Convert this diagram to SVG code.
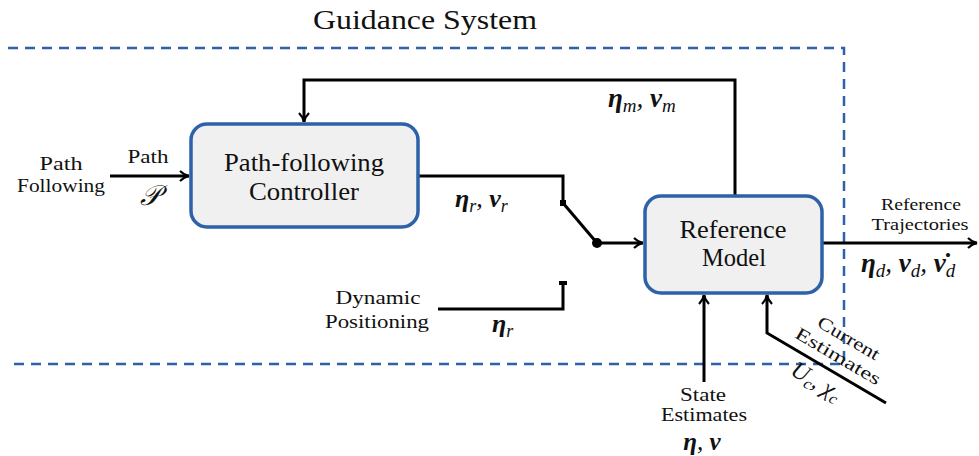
<svg xmlns="http://www.w3.org/2000/svg" width="979" height="456" viewBox="0 0 979 456" font-family="Liberation Serif">
<style>
text, tspan{font-family:'Liberation Serif',serif}
.m{font-style:italic}
.b{font-weight:bold}
.box{fill:#f0f0f0;stroke:#2e62a8;stroke-width:3.5}
.ln{fill:none;stroke:#000;stroke-width:3}
.dash{fill:none;stroke:#2e62a8;stroke-width:2.5;stroke-dasharray:10 7}
</style>
<defs>
<marker id="ar" viewBox="0 0 12 12" refX="11" refY="6" markerWidth="12" markerHeight="12" markerUnits="userSpaceOnUse" orient="auto">
<path d="M2,1 Q6,5 11,6 Q6,7 2,11" fill="none" stroke="#000" stroke-width="2.2"/>
</marker>
</defs>
<text x="425" y="29" font-size="27" text-anchor="middle" textLength="224" lengthAdjust="spacingAndGlyphs" fill="#111">Guidance System</text>
<g id="boundary">
<path class="dash" d="M8,48 H844 V364 H8"/>
</g>
<g id="connectors">
<path class="ln" d="M735,196 V80 H304 V122" marker-end="url(#ar)"/>
<path class="ln" d="M110,176 H189" marker-end="url(#ar)"/>
<path class="ln" d="M418,176 H563 V203"/>
<path class="ln" d="M563,203 L597,243"/>
<rect x="560" y="200" width="6" height="6" fill="#000"/>
<circle cx="597" cy="243" r="5" fill="#000"/>
<path class="ln" d="M597,243 H643" marker-end="url(#ar)"/>
<path class="ln" d="M438,309 H563 V283"/>
<path d="M559,283 H567" stroke="#000" stroke-width="4"/>
<path class="ln" d="M822,243 H977" marker-end="url(#ar)"/>
<path class="ln" d="M704,382 V295" marker-end="url(#ar)"/>
<path class="ln" d="M886,403 L767,333 V295" marker-end="url(#ar)"/>
</g>
<g id="controller" fill="#111">
<rect class="box" x="191" y="124" width="227" height="103" rx="16"/>
<text x="304" y="171" font-size="25" text-anchor="middle" textLength="160" lengthAdjust="spacingAndGlyphs">Path-following</text>
<text x="304" y="200" font-size="25" text-anchor="middle" textLength="110" lengthAdjust="spacingAndGlyphs">Controller</text>
</g>
<g id="reference-model" fill="#111">
<rect class="box" x="645" y="196" width="177" height="97" rx="16"/>
<text x="733" y="238" font-size="25" text-anchor="middle" textLength="107" lengthAdjust="spacingAndGlyphs">Reference</text>
<text x="734" y="266" font-size="25" text-anchor="middle" textLength="64" lengthAdjust="spacingAndGlyphs">Model</text>
</g>
<g id="labels" fill="#111">
<text x="61" y="170" font-size="19" text-anchor="middle" textLength="43" lengthAdjust="spacingAndGlyphs">Path</text>
<text x="61" y="192" font-size="19" text-anchor="middle" textLength="88" lengthAdjust="spacingAndGlyphs">Following</text>
<text x="148" y="163" font-size="19" text-anchor="middle" textLength="41" lengthAdjust="spacingAndGlyphs">Path</text>
<text class="m" x="150" y="205" font-size="28" text-anchor="middle">𝒫</text>
<text class="m" x="608" y="107" font-size="27"><tspan class="b">η</tspan><tspan font-size="19" dy="5">m</tspan><tspan dy="-5">, </tspan><tspan class="b">ν</tspan><tspan font-size="19" dy="5">m</tspan></text>
<text class="m" x="455" y="207" font-size="26"><tspan class="b">η</tspan><tspan font-size="18" dy="5">r</tspan><tspan dy="-5">, </tspan><tspan class="b">ν</tspan><tspan font-size="18" dy="5">r</tspan></text>
<text x="378" y="304" font-size="19" text-anchor="middle" textLength="85" lengthAdjust="spacingAndGlyphs">Dynamic</text>
<text x="377" y="328" font-size="19" text-anchor="middle" textLength="104" lengthAdjust="spacingAndGlyphs">Positioning</text>
<text class="m" x="492" y="332" font-size="26"><tspan class="b">η</tspan><tspan font-size="18" dy="5">r</tspan></text>
<text x="921" y="210" font-size="17" text-anchor="middle" textLength="80" lengthAdjust="spacingAndGlyphs">Reference</text>
<text x="920" y="230" font-size="17" text-anchor="middle" textLength="97" lengthAdjust="spacingAndGlyphs">Trajectories</text>
<text class="m" x="861" y="272" font-size="27"><tspan class="b">η</tspan><tspan font-size="19" dy="5">d</tspan><tspan dy="-5">, </tspan><tspan class="b">ν</tspan><tspan font-size="19" dy="5">d</tspan><tspan dy="-5">, </tspan><tspan class="b">ν̇</tspan><tspan font-size="19" dy="5">d</tspan></text>
<text x="703" y="401" font-size="18" text-anchor="middle" textLength="46" lengthAdjust="spacingAndGlyphs">State</text>
<text x="704" y="421" font-size="18" text-anchor="middle" textLength="86" lengthAdjust="spacingAndGlyphs">Estimates</text>
<text class="m" x="702" y="450" font-size="25" text-anchor="middle"><tspan class="b">η</tspan><tspan>, </tspan><tspan class="b">ν</tspan></text>
<g transform="translate(830,370) rotate(30.5)">
<text x="0" y="-31" font-size="18" text-anchor="middle" textLength="69" lengthAdjust="spacingAndGlyphs">Current</text>
<text x="0" y="-10" font-size="18" text-anchor="middle" textLength="96" lengthAdjust="spacingAndGlyphs">Estimates</text>
<text class="m" x="-6" y="24" font-size="24" text-anchor="middle">U<tspan font-size="16" dy="4">c</tspan><tspan dy="-4">, χ</tspan><tspan font-size="16" dy="4">c</tspan></text>
</g>
</g>
</svg>
